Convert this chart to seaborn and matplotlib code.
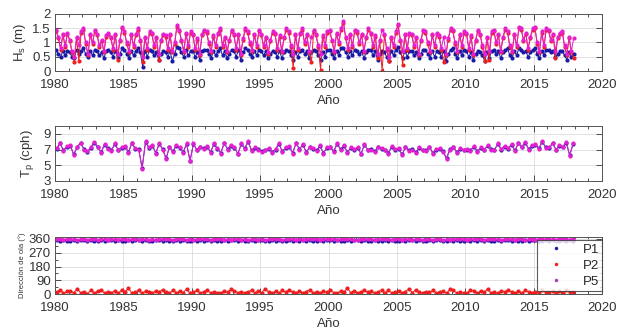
import matplotlib
matplotlib.use("Agg")
import matplotlib.pyplot as plt
from matplotlib.lines import Line2D
from matplotlib.ticker import MultipleLocator
import numpy as np
import seaborn as sns

# ---- data -----------------------------------------------------------------
# Hs: 6 values per year (Jan, Mar, May, Jul, Sep, Nov), 1980-2017
hs_p1 = [
    0.75, 0.6, 0.5, 0.7, 0.55, 0.7,   0.65, 0.5, 0.45, 0.75, 0.6, 0.7,
    0.8, 0.6, 0.5, 0.7, 0.55, 0.75,   0.7, 0.55, 0.65, 0.45, 0.7, 0.75,
    0.65, 0.5, 0.7, 0.45, 0.6, 0.8,   0.75, 0.6, 0.45, 0.7, 0.55, 0.7,
    0.8, 0.65, 0.15, 0.7, 0.5, 0.75,  0.7, 0.55, 0.65, 0.4, 0.6, 0.7,
    0.65, 0.5, 0.7, 0.35, 0.6, 0.85,  0.8, 0.65, 0.5, 0.75, 0.55, 0.7,
    0.7, 0.5, 0.65, 0.4, 0.7, 0.75,   0.75, 0.6, 0.45, 0.7, 0.55, 0.7,
    0.8, 0.55, 0.7, 0.45, 0.6, 0.75,  0.7, 0.5, 0.75, 0.4, 0.65, 0.8,
    0.75, 0.6, 0.5, 0.7, 0.55, 0.75,  0.7, 0.55, 0.7, 0.45, 0.6, 0.7,
    0.65, 0.5, 0.7, 0.45, 0.65, 0.75, 0.7, 0.55, 0.4, 0.65, 0.5, 0.7,
    0.75, 0.6, 0.7, 0.45, 0.65, 0.75, 0.7, 0.55, 0.4, 0.65, 0.5, 0.75,
    0.75, 0.6, 0.45, 0.7, 0.55, 0.8,  0.8, 0.65, 0.5, 0.7, 0.55, 0.75,
    0.7, 0.6, 0.7, 0.45, 0.65, 0.75,  0.75, 0.55, 0.7, 0.4, 0.6, 0.7,
    0.65, 0.5, 0.35, 0.7, 0.55, 0.75, 0.85, 0.65, 0.45, 0.7, 0.5, 0.7,
    0.7, 0.55, 0.65, 0.45, 0.6, 0.75, 0.75, 0.6, 0.45, 0.7, 0.5, 0.7,
    0.65, 0.5, 0.7, 0.35, 0.6, 0.75,  0.8, 0.6, 0.45, 0.7, 0.55, 0.75,
    0.7, 0.5, 0.65, 0.4, 0.6, 0.7,    0.65, 0.55, 0.35, 0.65, 0.45, 0.7,
    0.75, 0.6, 0.7, 0.45, 0.65, 0.75, 0.8, 0.55, 0.45, 0.7, 0.55, 0.8,
    0.75, 0.65, 0.7, 0.5, 0.65, 0.75, 0.8, 0.6, 0.45, 0.7, 0.55, 0.75,
    0.75, 0.65, 0.7, 0.5, 0.6, 0.7,   0.7, 0.55, 0.4, 0.65, 0.5, 0.6,
]
hs_p2 = [
    1.4, 1.15, 0.75, 1.25, 0.85, 1.3,  1.05, 0.65, 0.3, 1.15, 0.35, 1.35,
    1.45, 0.95, 0.55, 1.25, 0.95, 1.4, 1.25, 0.85, 1.05, 0.65, 1.2, 1.3,
    1.15, 0.75, 1.25, 0.4, 1.05, 1.5,  1.35, 0.95, 0.65, 1.25, 0.85, 1.25,
    1.45, 1.05, 0.3, 1.15, 0.75, 1.35, 1.3, 0.85, 1.15, 0.4, 1.05, 1.25,
    1.2, 0.75, 1.25, 0.65, 0.95, 1.55, 1.4, 1.05, 0.65, 1.3, 0.85, 1.35,
    1.25, 0.75, 1.1, 0.55, 1.25, 1.4,  1.35, 0.95, 0.65, 1.2, 0.85, 1.3,
    1.45, 0.85, 1.15, 0.65, 1.05, 1.4, 1.25, 0.75, 1.25, 0.55, 1.1, 1.45,
    1.35, 0.95, 0.7, 1.25, 0.85, 1.4,  1.25, 0.85, 1.15, 0.6, 1.05, 1.35,
    1.3, 0.75, 1.2, 0.65, 1.15, 1.45,  1.35, 0.85, 0.1, 1.25, 0.75, 1.3,
    1.45, 0.95, 1.25, 0.65, 0.3, 1.4,  1.25, 0.85, 0.05, 1.2, 0.85, 1.35,
    1.4, 1.05, 0.65, 1.3, 0.95, 1.45,  1.7, 1.15, 0.75, 1.25, 0.85, 1.4,
    1.35, 0.95, 1.25, 0.65, 1.15, 1.45, 1.3, 0.85, 1.2, 0.45, 1.05, 0.0,
    1.25, 0.75, 0.35, 1.15, 0.85, 1.35, 1.6, 1.05, 0.2, 1.25, 0.75, 1.3,
    1.25, 0.85, 1.15, 0.55, 1.05, 1.4, 1.35, 0.95, 0.65, 1.25, 0.85, 1.3,
    1.2, 0.75, 0.3, 0.55, 1.1, 1.45,   1.4, 0.95, 0.65, 1.25, 0.85, 1.35,
    1.3, 0.75, 1.2, 0.55, 1.05, 1.4,   1.25, 0.85, 0.35, 1.15, 0.4, 1.35,
    1.4, 0.95, 1.25, 0.65, 1.15, 1.45, 1.35, 0.85, 0.65, 1.25, 0.85, 1.5,
    1.45, 1.05, 1.3, 0.75, 1.15, 1.45, 1.5, 0.95, 0.65, 1.35, 0.85, 1.45,
    1.4, 1.05, 1.25, 0.45, 1.15, 1.3,  1.35, 0.85, 0.55, 1.15, 0.65, 0.45,
]
hs_p5 = [
    1.45, 1.2, 0.8, 1.3, 0.9, 1.35,   1.1, 0.7, 0.5, 1.2, 0.9, 1.4,
    1.5, 1.0, 0.6, 1.3, 1.0, 1.45,    1.3, 0.9, 1.1, 0.7, 1.25, 1.35,
    1.2, 0.8, 1.3, 0.6, 1.1, 1.55,    1.4, 1.0, 0.7, 1.3, 0.9, 1.3,
    1.5, 1.1, 0.5, 1.2, 0.8, 1.4,     1.35, 0.9, 1.2, 0.6, 1.1, 1.3,
    1.25, 0.8, 1.3, 0.7, 1.0, 1.6,    1.45, 1.1, 0.7, 1.35, 0.9, 1.4,
    1.3, 0.8, 1.15, 0.6, 1.3, 1.45,   1.4, 1.0, 0.7, 1.25, 0.9, 1.35,
    1.5, 0.9, 1.2, 0.7, 1.1, 1.45,    1.3, 0.8, 1.3, 0.6, 1.15, 1.5,
    1.4, 1.0, 0.75, 1.3, 0.9, 1.45,   1.3, 0.9, 1.2, 0.65, 1.1, 1.4,
    1.35, 0.8, 1.25, 0.7, 1.2, 1.5,   1.4, 0.9, 0.6, 1.3, 0.8, 1.35,
    1.5, 1.0, 1.3, 0.7, 1.2, 1.45,    1.3, 0.9, 0.6, 1.25, 0.9, 1.4,
    1.45, 1.1, 0.7, 1.35, 1.0, 1.5,   1.75, 1.2, 0.8, 1.3, 0.9, 1.45,
    1.4, 1.0, 1.3, 0.7, 1.2, 1.5,     1.35, 0.9, 1.25, 0.6, 1.1, 1.45,
    1.3, 0.8, 0.5, 1.2, 0.9, 1.4,     1.65, 1.1, 0.7, 1.3, 0.8, 1.35,
    1.3, 0.9, 1.2, 0.6, 1.1, 1.45,    1.4, 1.0, 0.7, 1.3, 0.9, 1.35,
    1.25, 0.8, 1.2, 0.6, 1.15, 1.5,   1.45, 1.0, 0.7, 1.3, 0.9, 1.4,
    1.35, 0.8, 1.25, 0.6, 1.1, 1.45,  1.3, 0.9, 0.6, 1.2, 0.7, 1.4,
    1.45, 1.0, 1.3, 0.7, 1.2, 1.5,    1.4, 0.9, 0.7, 1.3, 0.9, 1.55,
    1.5, 1.1, 1.35, 0.8, 1.2, 1.5,    1.55, 1.0, 0.7, 1.4, 0.9, 1.5,
    1.45, 1.1, 1.3, 0.7, 1.2, 1.35,   1.4, 0.9, 0.6, 1.2, 0.7, 1.15,
]

# Tp: 4 values per year (Feb, May, Aug, Nov), 1980-2017
tp_p1 = [
    7.1, 7.8, 6.9, 7.4,  7.5, 6.4, 7.3, 7.8,  7.1, 6.7, 7.2, 7.9,  7.3, 6.7, 7.6, 7.2,
    6.9, 7.7, 7.0, 7.2,  7.4, 6.7, 7.8, 7.1,  7.1, 4.7, 8.0, 7.2,  7.5, 6.6, 7.7, 7.1,
    5.9, 7.3, 6.8, 7.5,  7.2, 6.7, 7.7, 5.6,  7.7, 7.0, 7.3, 7.2,  7.4, 6.7, 7.7, 7.1,
    6.6, 7.8, 7.1, 7.5,  7.2, 6.5, 7.7, 7.2,  8.0, 6.9, 7.2, 7.1,  6.8, 7.0, 7.1, 6.7,
    7.0, 7.7, 6.8, 7.2,  7.4, 6.6, 7.8, 7.1,  7.6, 6.7, 7.3, 7.1,  6.9, 7.5, 6.6, 7.2,
    7.3, 6.8, 7.7, 7.1,  7.5, 6.7, 7.2, 7.0,  7.2, 6.5, 7.6, 7.0,  7.1, 6.8, 7.3, 7.1,
    7.0, 6.6, 7.4, 7.0,  7.1, 6.4, 7.3, 6.9,  7.1, 6.7, 7.2, 7.0,  6.9, 7.3, 6.6, 7.0,
    7.1, 6.8, 5.9, 7.1,  7.3, 6.7, 7.1, 7.0,  7.0, 6.9, 7.4, 6.8,  7.2, 7.0, 7.5, 7.1,
    7.0, 7.7, 7.0, 7.4,  7.1, 7.6, 6.9, 7.8,  7.3, 7.9, 7.1, 7.5,  7.6, 7.2, 8.0, 7.3,
    7.2, 7.8, 7.0, 7.5,  7.3, 7.9, 6.3, 7.7,
]
tp_p5 = [
    7.2, 7.9, 6.8, 7.5,  7.6, 6.3, 7.4, 7.9,  7.0, 6.8, 7.3, 8.0,  7.4, 6.6, 7.7, 7.1,
    6.8, 7.8, 6.9, 7.3,  7.5, 6.6, 7.9, 7.2,  7.0, 4.5, 8.1, 7.3,  7.6, 6.5, 7.8, 7.0,
    5.8, 7.4, 6.7, 7.6,  7.3, 6.6, 7.8, 5.5,  7.8, 6.9, 7.4, 7.1,  7.5, 6.6, 7.8, 7.2,
    6.5, 7.9, 7.0, 7.6,  7.3, 6.4, 7.8, 7.1,  8.1, 6.8, 7.3, 7.0,  6.7, 6.9, 7.2, 6.6,
    7.1, 7.8, 6.7, 7.3,  7.5, 6.5, 7.9, 7.0,  7.7, 6.6, 7.4, 7.2,  6.8, 7.6, 6.5, 7.3,
    7.4, 6.7, 7.8, 7.0,  7.6, 6.6, 7.3, 7.1,  7.3, 6.4, 7.7, 6.9,  7.0, 6.7, 7.4, 7.2,
    6.9, 6.5, 7.5, 7.1,  7.2, 6.3, 7.4, 6.8,  7.0, 6.6, 7.3, 6.9,  6.8, 7.4, 6.5, 7.1,
    7.2, 6.7, 5.8, 7.0,  7.4, 6.6, 7.2, 6.9,  7.1, 6.8, 7.5, 6.7,  7.3, 6.9, 7.6, 7.0,
    6.9, 7.8, 7.1, 7.5,  7.2, 7.7, 6.8, 7.9,  7.4, 8.0, 7.0, 7.6,  7.7, 7.1, 8.1, 7.2,
    7.3, 7.9, 6.9, 7.6,  7.4, 8.0, 6.2, 7.8,
]

# Wave direction (deg): 4 values per year, 1980-2017
dir_p1 = [
    350, 346, 352, 348,  349, 353, 347, 351,  352, 348, 350, 346,  348, 351, 349, 353,
    351, 347, 350, 348,  349, 352, 346, 350,  350, 345, 351, 349,  347, 350, 352, 348,
    351, 349, 346, 350,  348, 352, 349, 347,  350, 347, 351, 349,  352, 348, 350, 346,
    349, 351, 347, 350,  350, 348, 352, 349,  347, 350, 348, 351,  351, 349, 346, 350,
    348, 352, 349, 347,  350, 348, 351, 349,  352, 347, 350, 348,  349, 351, 346, 350,
    350, 348, 352, 347,  347, 350, 349, 351,  351, 346, 350, 348,  348, 352, 349, 347,
    350, 345, 351, 349,  349, 351, 347, 350,  351, 348, 352, 349,  347, 350, 348, 351,
    350, 349, 346, 350,  348, 352, 349, 347,  350, 347, 351, 349,  352, 348, 350, 346,
    349, 351, 347, 350,  350, 348, 352, 349,  347, 350, 348, 351,  351, 349, 347, 350,
    348, 352, 349, 347,  350, 348, 351, 349,
]
dir_p2 = [
    12, 28, 6, 18,  22, 8, 35, 10,  15, 4, 24, 9,  18, 30, 7, 14,
    9, 21, 5, 26,  16, 38, 8, 12,  25, 6, 19, 11,  7, 22, 14, 30,
    13, 5, 27, 9,  20, 10, 33, 6,  11, 24, 8, 17,  28, 7, 15, 10,
    6, 19, 12, 31,  23, 9, 16, 5,  14, 27, 7, 20,  10, 36, 12, 8,
    18, 6, 25, 11,  30, 13, 5, 22,  8, 17, 29, 10,  15, 7, 21, 12,
    27, 10, 6, 18,  12, 40, 9, 23,  7, 16, 26, 11,  19, 5, 13, 28,
    10, 24, 8, 15,  22, 6, 17, 35,  9, 29, 12, 7,  16, 11, 25, 8,
    13, 20, 6, 31,  24, 9, 14, 10,  8, 27, 18, 6,  21, 12, 34, 9,
    11, 7, 23, 16,  28, 13, 8, 19,  6, 25, 15, 10,  17, 9, 30, 12,
    14, 22, 7, 18,  9, 26, 11, 13,
]
dir_p5 = [
    357, 359, 356, 358,  360, 357, 355, 359,  358, 356, 360, 357,  356, 359, 358, 355,
    359, 357, 356, 360,  357, 355, 359, 358,  356, 360, 357, 355,  358, 356, 359, 357,
    360, 357, 355, 358,  357, 359, 356, 360,  355, 358, 357, 359,  359, 356, 360, 357,
    357, 355, 358, 356,  358, 360, 356, 359,  356, 357, 359, 355,  359, 356, 357, 360,
    357, 359, 355, 358,  360, 357, 356, 359,  356, 358, 360, 357,  358, 355, 357, 359,
    359, 357, 356, 360,  357, 359, 358, 355,  355, 358, 357, 359,  360, 356, 359, 357,
    357, 359, 355, 358,  358, 356, 360, 357,  356, 357, 359, 355,  359, 358, 356, 360,
    357, 355, 358, 356,  358, 360, 357, 359,  356, 357, 359, 358,  359, 356, 360, 357,
    357, 359, 356, 358,  360, 357, 355, 359,  358, 356, 357, 360,  356, 359, 358, 357,
    359, 357, 356, 360,  357, 358, 356, 359,
]

# time axis (decimal years, mid-interval)
t6 = 1980 + (np.arange(len(hs_p5)) + 0.5) / 6
t4 = 1980 + (np.arange(len(tp_p5)) + 0.5) / 4

c_p1 = "#1a1aa6"
c_p2 = "#f01e1e"
c_p5 = "#e61ecf"

sns.set_style("ticks")
plt.rcParams["font.family"] = ["Liberation Sans", "DejaVu Sans"]
plt.rcParams["mathtext.default"] = "regular"

fig = plt.figure(figsize=(6.24, 3.32), dpi=100)
ax1 = fig.add_axes([0.088, 0.786, 0.877, 0.172])
ax2 = fig.add_axes([0.088, 0.455, 0.877, 0.165])
ax3 = fig.add_axes([0.088, 0.114, 0.877, 0.172])

kw = dict(marker="o", markersize=3, markeredgewidth=0, lw=0.7, legend=False)

sns.lineplot(x=t6, y=hs_p1, color=c_p1, ax=ax1, **kw)
sns.lineplot(x=t6, y=hs_p2, color=c_p2, ax=ax1, **kw)
sns.lineplot(x=t6, y=hs_p5, color=c_p5, ax=ax1, **kw)

sns.lineplot(x=t4, y=tp_p1, color=c_p1, ax=ax2, **kw)
sns.lineplot(x=t4, y=tp_p5, color=c_p5, ax=ax2, **kw)

sns.lineplot(x=t4, y=dir_p1, color=c_p1, ax=ax3, **kw)
sns.lineplot(x=t4, y=dir_p2, color=c_p2, ax=ax3, **kw)
sns.lineplot(x=t4, y=dir_p5, color=c_p5, ax=ax3, **kw)

for ax in (ax1, ax2, ax3):
    ax.set_xlim(1980, 2020)
    ax.xaxis.set_major_locator(MultipleLocator(5))
    ax.xaxis.set_minor_locator(MultipleLocator(1))
    ax.tick_params(which="both", direction="in", top=True, right=True,
                   labelsize=9.5, colors="#333333")
    ax.tick_params(axis="x", pad=5.5)
    ax.tick_params(axis="y", pad=3)
    ax.tick_params(which="major", length=4, width=0.6)
    ax.tick_params(which="minor", length=2.5, width=0.6)
    ax.grid(True, color="#dcdcdc", lw=0.6)
    ax.set_axisbelow(True)
    for s in ax.spines.values():
        s.set_color("#555555")
        s.set_linewidth(0.7)
    ax.set_xlabel("Año", fontsize=9.5, color="#333333", labelpad=3)

ax1.set_ylim(0, 2)
ax1.set_yticks([0, 0.5, 1, 1.5, 2])
ax1.set_yticklabels(["0", "0.5", "1", "1.5", "2"])
ax1.set_ylabel("H$_s$ (m)", fontsize=9.5, color="#333333", labelpad=3)

ax2.set_ylim(3, 10)
ax2.set_yticks([3, 5, 7, 9])
ax2.set_ylabel("T$_p$ (cph)", fontsize=9.5, color="#333333", labelpad=5)

ax3.set_ylim(0, 372)
ax3.set_yticks([0, 90, 180, 270, 360])
ax3.yaxis.set_minor_locator(MultipleLocator(45))
ax3.set_ylabel("Dirección de ola (°)", fontsize=5.5, color="#333333", labelpad=2)

handles = [Line2D([], [], ls="none", marker="o", markersize=2.5, markeredgewidth=0, color=c)
           for c in (c_p1, c_p2, "#a03cb4")]
leg = ax3.legend(handles, ["P1", "P2", "P5"], loc="center right",
                 bbox_to_anchor=(1.0, 0.5), fontsize=9.5, frameon=True,
                 fancybox=False, handlelength=2.4, handletextpad=0.8,
                 borderpad=0.25, labelspacing=0.3, borderaxespad=0)
leg.get_frame().set_edgecolor("#333333")
leg.get_frame().set_linewidth(0.8)

fig.savefig("out.png", dpi=100)
